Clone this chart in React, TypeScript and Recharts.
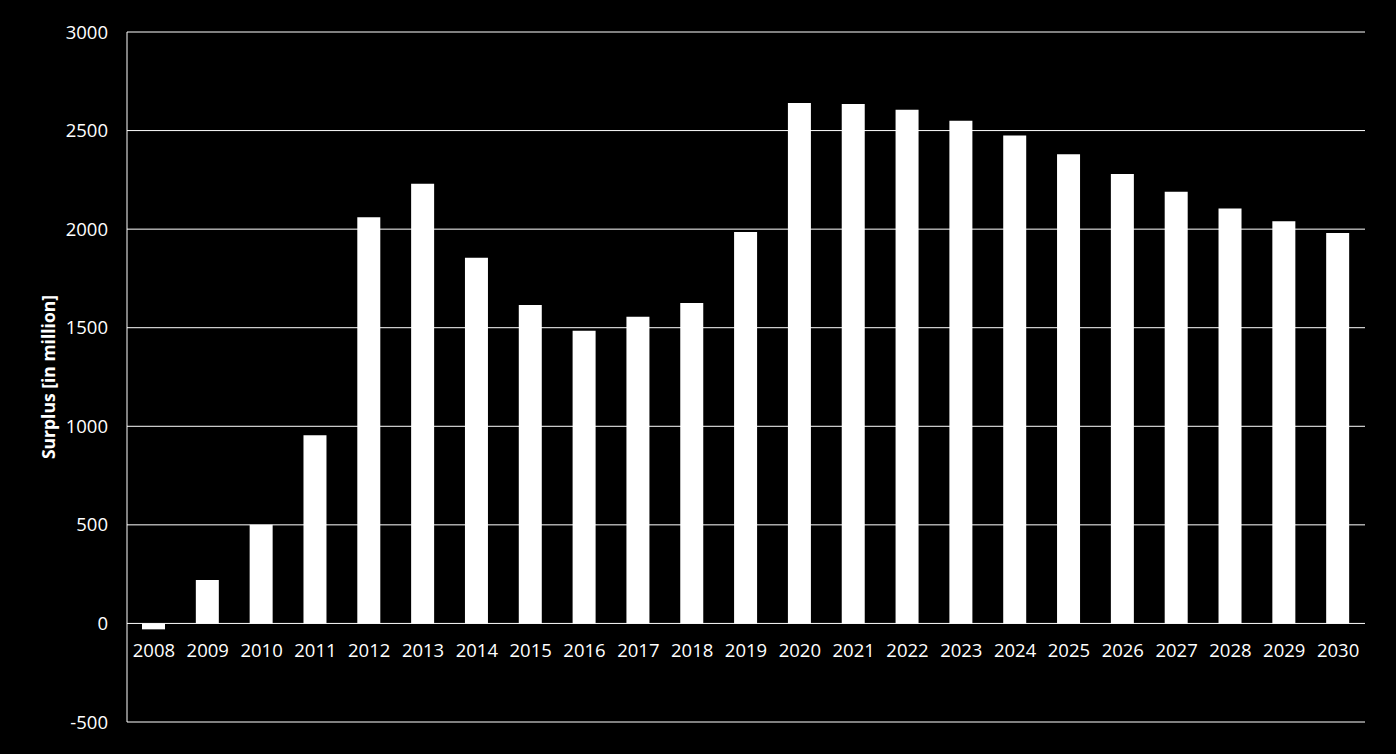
import * as React from 'react';
import { Bar, BarChart, CartesianGrid, XAxis, YAxis, Label } from 'recharts';

const years = [
  '2008', '2009', '2010', '2011', '2012', '2013', '2014', '2015', '2016', '2017', '2018', '2019',
  '2020', '2021', '2022', '2023', '2024', '2025', '2026', '2027', '2028', '2029', '2030'
];
const surplus = [
  -30, 220, 500, 955, 2060, 2230, 1855, 1615, 1485, 1555, 1625, 1985,
  2640, 2635, 2605, 2550, 2475, 2380, 2280, 2190, 2105, 2040, 1980
];
const yTicks = [-500, 0, 500, 1000, 1500, 2000, 2500, 3000];

const data = years.map((year, i) => ({ year, value: surplus[i] }));

const W = 1396;
const H = 754;
const margin = { top: 32, right: 31, bottom: 2, left: 0 };
const X_AXIS_H = 30;
const Y_MIN = -500;
const Y_MAX = 3000;
const PLOT_H = H - margin.top - margin.bottom - X_AXIS_H;
// distance from the plot bottom up to the zero line
const zeroShift = (PLOT_H * (0 - Y_MIN)) / (Y_MAX - Y_MIN);

const font = '"Open Sans", Calibri, sans-serif';

function YearTick(props: any) {
  const { x, y, payload } = props;
  return (
    <text
      x={x}
      y={y - zeroShift + 26}
      textAnchor="middle"
      dominantBaseline="central"
      fill="#fff"
      fontSize={18.5}
      fontFamily={font}
    >
      {payload.value}
    </text>
  );
}

function AxisTitle(props: any) {
  const { viewBox } = props;
  const cx = viewBox.x + 48;
  const cy = viewBox.y + viewBox.height / 2;
  return (
    <text
      x={cx}
      y={cy}
      transform={`rotate(-90, ${cx}, ${cy})`}
      textAnchor="middle"
      dominantBaseline="central"
      fill="#fff"
      fontSize={17.5}
      fontWeight="bold"
      fontFamily={font}
    >
      Surplus [in million]
    </text>
  );
}

export default function App() {
  return (
    <div style={{ position: 'fixed', left: 0, top: 0, width: W, height: H, background: '#000' }}>
      <BarChart width={W} height={H} data={data} margin={margin}>
        <CartesianGrid stroke="#fff" strokeWidth={1} vertical={false} />
        <XAxis
          dataKey="year"
          height={X_AXIS_H}
          axisLine={false}
          tickLine={false}
          tickSize={0}
          tickMargin={0}
          interval={0}
          tick={YearTick}
        />
        <YAxis
          width={127}
          domain={[Y_MIN, Y_MAX]}
          ticks={yTicks}
          interval={0}
          axisLine={{ stroke: '#fff', strokeWidth: 1 }}
          tickLine={false}
          tickSize={0}
          tickMargin={19}
          tick={{ fill: '#fff', fontSize: 18.5, fontFamily: font }}
        >
          <Label content={<AxisTitle />} />
        </YAxis>
        <Bar dataKey="value" fill="#fff" barSize={23} isAnimationActive={false} />
      </BarChart>
    </div>
  );
}
